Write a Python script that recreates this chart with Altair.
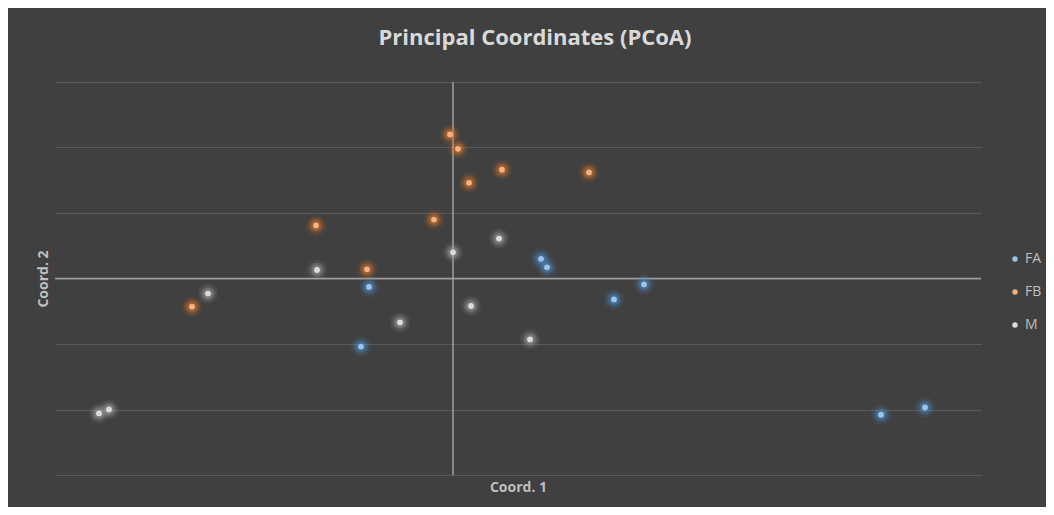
import altair as alt
import pandas as pd

groups = ["FA", "FB", "M"]
core_colors = ["#9dc3e6", "#f4b183", "#dcdcdc"]
glow_colors = ["#4a8fd0", "#e0772a", "#a5a5a5"]

fa_x = [0.88, 0.94, -0.84, 1.61, 1.91, -0.92, 4.28, 4.72]
fa_y = [0.30, 0.17, -0.13, -0.32, -0.09, -1.04, -2.08, -1.97]
fb_x = [-0.03, 0.05, 0.49, 1.36, 0.16, -0.19, -1.37, -0.86, -2.61]
fb_y = [2.20, 1.98, 1.66, 1.62, 1.46, 0.90, 0.81, 0.14, -0.43]
m_x = [0.00, 0.46, -1.36, 0.18, -2.45, -0.53, 0.77, -3.54, -3.44]
m_y = [0.40, 0.61, 0.13, -0.42, -0.23, -0.67, -0.93, -2.06, -2.00]

y_grid = [-3, -2, -1, 0, 1, 2, 3]

rows = []
for g, xs, ys in [("FA", fa_x, fa_y), ("FB", fb_x, fb_y), ("M", m_x, m_y)]:
    for a, b in zip(xs, ys):
        rows.append({"group": g, "c1": a, "c2": b})
df = pd.DataFrame(rows)

xscale = alt.Scale(domain=[-3.98, 5.28], nice=False, zero=False)
yscale = alt.Scale(domain=[-3, 3], nice=False, zero=False)

xenc = alt.X("c1:Q", scale=xscale,
             axis=alt.Axis(title="Coord. 1", labels=False, ticks=False, domain=False,
                           grid=False, titlePadding=5, titleFontSize=14,
                           titleColor="#bfbfbf", titleFont="Open Sans", titleFontWeight="bold"))
yenc = alt.Y("c2:Q", scale=yscale,
             axis=alt.Axis(title="Coord. 2", labels=False, ticks=False, domain=False,
                           grid=True, gridColor="#5a5a5a", gridWidth=1, values=y_grid,
                           titlePadding=5, titleFontSize=14,
                           titleColor="#bfbfbf", titleFont="Open Sans", titleFontWeight="bold"))

base = alt.Chart(df)

glow_scale = alt.Scale(domain=groups, range=glow_colors)
core_scale = alt.Scale(domain=groups, range=core_colors)

glow1 = base.mark_circle(size=420, opacity=0.10).encode(
    x=xenc, y=yenc, color=alt.Color("group:N", scale=glow_scale, legend=None))
glow2 = base.mark_circle(size=230, opacity=0.22).encode(
    x="c1:Q", y="c2:Q", color=alt.Color("group:N", scale=glow_scale, legend=None))
glow3 = base.mark_circle(size=120, opacity=0.35).encode(
    x="c1:Q", y="c2:Q", color=alt.Color("group:N", scale=glow_scale, legend=None))
glows = alt.layer(glow1, glow2, glow3)

zero_df = pd.DataFrame({"v": [0]})
hrule = alt.Chart(zero_df).mark_rule(color="#a0a0a0", strokeWidth=1.5).encode(y=alt.Y("v:Q", scale=yscale))
vrule = alt.Chart(zero_df).mark_rule(color="#a0a0a0", strokeWidth=1.5).encode(x=alt.X("v:Q", scale=xscale))

core = base.mark_circle(size=34, opacity=1).encode(
    x="c1:Q", y="c2:Q",
    color=alt.Color("group:N", scale=core_scale,
                    legend=alt.Legend(title=None, orient="none", legendX=953, legendY=170,
                                      symbolType="circle", symbolSize=30, symbolOpacity=1,
                                      labelFontSize=14, labelColor="#bfbfbf", labelOffset=3,
                                      labelFont="Open Sans", rowPadding=19,
                                      symbolStrokeWidth=0)))

chart = alt.layer(hrule, vrule, glows, core).resolve_scale(color="independent").properties(
    width=926, height=393,
    background="#404040",
    padding={"left": 47, "top": 74, "right": 65, "bottom": 32},
    autosize=alt.AutoSizeParams(type="none"),
    title=alt.TitleParams("Principal Coordinates (PCoA)", anchor="middle", dx=17, offset=31,
                          fontSize=22, font="Open Sans", fontWeight="bold", color="#d9d9d9"),
).configure_view(strokeWidth=0)

chart.save("out.html", embed_options={"renderer": "svg", "actions": False})
